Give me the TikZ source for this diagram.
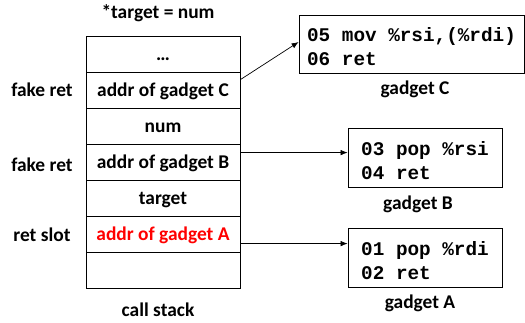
\documentclass[tikz,border=0pt]{standalone}
\usepackage{fontspec}
\setmainfont{Carlito}
\newfontfamily\monofam{Liberation Mono}
\newcommand\gsp{\hspace*{0.6em}}
\newcommand\gstrut{\rule{0pt}{20bp}}
\usetikzlibrary{arrows.meta,calc}
\begin{document}
\begin{tikzpicture}[x=1bp,y=-1bp,
  lbl/.style={font=\fontsize{19.5}{22}\selectfont\bfseries, inner sep=0pt},
  row/.style={draw, line width=0.8bp, minimum width=154bp, minimum height=36bp, inner sep=0pt,
    text height=13bp, text depth=1bp, font=\fontsize{19.5}{22}\selectfont\bfseries},
  gbox/.style={draw, line width=0.8bp, inner xsep=0bp, inner ysep=0pt, align=left,
    font=\fontsize{19.4}{24}\selectfont\monofam\bfseries},
  conn/.style={line width=0.7bp, -{Latex[length=7bp,width=5.5bp]}}]
\useasboundingbox (0,0) rectangle (525,322);
\node[row] (r1) at (163,54) {…};
\node[row] (r2) at (163,90) {addr of gadget C};
\node[row] (r3) at (163,126) {num};
\node[row] (r4) at (163,162) {addr of gadget B};
\node[row] (r5) at (163,198) {target};
\node[row, text=red] (r6) at (163,234) {addr of gadget A};
\node[row] (r7) at (163,270) {};
\node[lbl, anchor=base] (l1) at ($(r2.base)+(-121,0)$) {fake ret};
\node[lbl, anchor=base] (l2) at ($(r4.base)+(-121,3)$) {fake ret};
\node[lbl, anchor=base] (l3) at ($(r6.base)+(-121,1)$) {ret slot};
\node[lbl, anchor=base] (title) at (158,18) {*target = num};
\node[lbl, anchor=base] (cs) at (158,316) {call stack};
\node[gbox, minimum width=225bp, minimum height=58bp] (gC) at (411.5,44) {\gstrut 05\gsp mov\gsp\%rsi,(\%rdi)\\06\gsp ret};
\node[gbox, minimum width=154bp, minimum height=59bp] (gB) at (425,157.5) {\gstrut 03\gsp pop\gsp\%rsi\\04\gsp ret};
\node[gbox, minimum width=154bp, minimum height=59bp] (gA) at (425,257.5) {\gstrut 01\gsp pop\gsp\%rdi\\02\gsp ret};
\node[lbl, anchor=base] (tC) at (415,94) {gadget C};
\node[lbl, anchor=base] (tB) at (418,209) {gadget B};
\node[lbl, anchor=base] (tA) at (420,308) {gadget A};
\coordinate (sC) at ($(r2.north east)+(0,8)$);
\coordinate (sB) at ($(r4.north east)+(0,9)$);
\coordinate (sA) at ($(r6.north east)+(0,28)$);
\draw[conn] (sC) -- ($(gC.west)+(0,-2)$);
\draw[conn] (sB) -- (sB -| gB.west);
\draw[conn] (sA) -- (sA -| gA.west);
\end{tikzpicture}
\end{document}
